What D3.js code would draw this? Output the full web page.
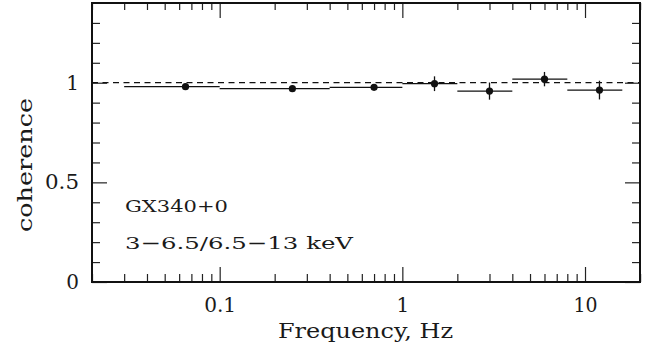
<!DOCTYPE html>
<html><head><meta charset="utf-8">
<script src="https://cdn.jsdelivr.net/npm/d3@7"></script>
<style>body{margin:0;background:#fff}svg{display:block}text{font-family:"DejaVu Serif",serif;fill:#1a1a1a}</style>
</head><body><svg id="c" width="658" height="351"></svg>
<script>
const freq   = [0.065, 0.25, 0.70, 1.5, 3.0, 6.0, 12.0];
const fLo    = [0.030, 0.10, 0.40, 1.0, 2.0, 4.0, 8.0];
const fHi    = [0.10,  0.40, 1.00, 2.0, 4.0, 8.0, 16.0];
const coh    = [0.980, 0.970, 0.977, 0.995, 0.958, 1.018, 0.963];
const cohErr = [0.008, 0.008, 0.010, 0.037, 0.043, 0.036, 0.047];
const xMajor = [0.1, 1, 10];
const xMajorLabels = ["0.1", "1", "10"];
const yMajor = [0, 0.5, 1];
const yMajorLabels = ["0", "0.5", "1"];
const reference = 1;

const svg = d3.select("#c");
const L = 92, R = 640, T = 3, B = 282;
const x = d3.scaleLog().domain([0.02, 20]).range([L, R]);
const y = d3.scaleLinear().domain([0, 1.4]).range([B, T]);

const xMinor = [];
[0.01, 0.1, 1, 10].forEach(d => { for (let k = 2; k <= 9; k++) { const v = d * k; if (v >= 0.02 && v <= 20 && !xMajor.includes(v)) xMinor.push(v); } });
xMinor.push(20);
const yMinor = d3.range(0, 14).map(i => +(i / 10).toFixed(1)).filter(v => !yMajor.includes(v));

const g = svg.append("g");
function axis(gen, tr, vals, size) {
  const a = g.append("g").attr("transform", tr)
    .call(gen.tickValues(vals).tickSize(-size).tickFormat(""));
  a.select(".domain").remove();
  a.selectAll("line").attr("stroke", "#222").attr("stroke-width", 1.2);
}
axis(d3.axisBottom(x), `translate(0,${B})`, xMajor, 15);
axis(d3.axisBottom(x), `translate(0,${B})`, xMinor, 8);
axis(d3.axisTop(x), `translate(0,${T})`, xMajor, 15);
axis(d3.axisTop(x), `translate(0,${T})`, xMinor, 7);
axis(d3.axisLeft(y), `translate(${L},0)`, yMajor, 15);
axis(d3.axisLeft(y), `translate(${L},0)`, yMinor, 8);
axis(d3.axisRight(y), `translate(${R},0)`, yMajor, 15);
axis(d3.axisRight(y), `translate(${R},0)`, yMinor, 8);

function stretch(sel, len) {
  if (len) sel.attr("textLength", len).attr("lengthAdjust", "spacingAndGlyphs");
  return sel;
}
const tickLen = {"0.1": 32, "10": 24, "0.5": 34};

// labels
xMajor.forEach((v, i) => stretch(g.append("text").attr("x", x(v) + 0.5).attr("y", 311.5)
  .attr("text-anchor", "middle").attr("font-size", 20).text(xMajorLabels[i]), tickLen[xMajorLabels[i]]));
yMajor.forEach((v, i) => stretch(g.append("text").attr("x", 79).attr("y", y(v) + 7)
  .attr("text-anchor", "end").attr("font-size", 20).text(yMajorLabels[i]), tickLen[yMajorLabels[i]]));

// frame
g.append("rect").attr("x", L).attr("y", T).attr("width", R - L).attr("height", B - T)
  .attr("fill", "none").attr("stroke", "#111").attr("stroke-width", 2);

// reference dashed line
g.append("line").attr("x1", L).attr("x2", R).attr("y1", y(reference)).attr("y2", y(reference))
  .attr("stroke", "#111").attr("stroke-width", 1.2).attr("stroke-dasharray", "6,4.5");

// data
const idx = d3.range(freq.length);
g.selectAll(".hb").data(idx).join("line")
  .attr("x1", i => x(fLo[i])).attr("x2", i => x(fHi[i]))
  .attr("y1", i => y(coh[i])).attr("y2", i => y(coh[i]))
  .attr("stroke", "#111").attr("stroke-width", 1.3);
g.selectAll(".vb").data(idx).join("line")
  .attr("x1", i => x(freq[i])).attr("x2", i => x(freq[i]))
  .attr("y1", i => y(coh[i] - cohErr[i])).attr("y2", i => y(coh[i] + cohErr[i]))
  .attr("stroke", "#111").attr("stroke-width", 1.3);
g.selectAll("circle").data(idx).join("circle")
  .attr("cx", i => x(freq[i])).attr("cy", i => y(coh[i])).attr("r", 3.6).attr("fill", "#111");

// annotations
stretch(g.append("text").attr("x", 125).attr("y", 212).attr("font-size", 17.5).text("GX340+0"), 103);
stretch(g.append("text").attr("x", 125).attr("y", 248.5).attr("font-size", 17.5).text("3−6.5/6.5−13 keV"), 228);

// axis titles
stretch(g.append("text").attr("x", 278).attr("y", 338).attr("font-size", 20).text("Frequency, Hz"), 175);
stretch(g.append("text").attr("transform", "translate(32,232) rotate(-90)")
  .attr("font-size", 20).text("coherence"), 134);
</script></body></html>
